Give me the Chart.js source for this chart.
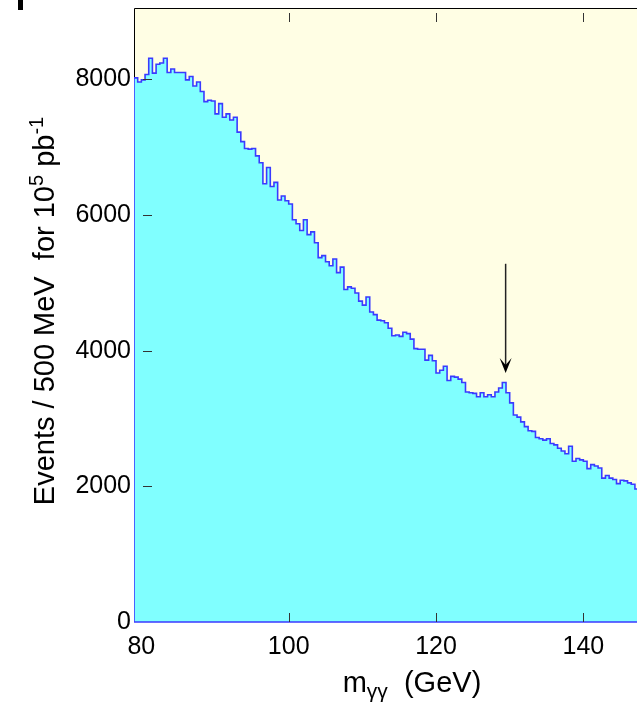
<!DOCTYPE html>
<html>
<head>
<meta charset="utf-8">
<script src="https://cdn.jsdelivr.net/npm/chart.js@4.4.1/dist/chart.umd.min.js"></script>
<style>
  html, body { margin: 0; padding: 0; background: #fff; overflow: hidden; }
  canvas { display: block; }
</style>
</head>
<body>
<canvas id="mass" width="640" height="705"></canvas>
<script>
// diphoton mass spectrum, 0.5 GeV bins starting at 79 GeV
const firstBinLow = 79;
const binWidth = 0.5;
const counts = [
  8020, 7960, 7990, 8070, 8310, 8090, 8220, 8240, 8310, 8100,
  8150, 8100, 8100, 8100, 7990, 8040, 7900, 7960, 7820, 7670,
  7690, 7680, 7490, 7640, 7440, 7490, 7400, 7440, 7220, 7080,
  6980, 6970, 6980, 6870, 6770, 6460, 6700, 6420, 6480, 6220,
  6280, 6210, 6160, 5930, 5870, 5770, 5930, 5710, 5750, 5590,
  5370, 5400, 5310, 5250, 5350, 5150, 5230, 4900, 4940, 4920,
  4850, 4730, 4670, 4790, 4570, 4530, 4450, 4440, 4410, 4330,
  4220, 4230, 4210, 4270, 4250, 4170, 4030, 4020, 4020, 3860,
  3930, 3850, 3670, 3710, 3770, 3560, 3620, 3610, 3580, 3530,
  3390, 3380, 3370, 3320, 3380, 3320, 3350, 3320, 3390, 3450,
  3530, 3380, 3230, 3050, 3020, 2950, 2880, 2820, 2810, 2720,
  2700, 2680, 2700, 2630, 2610, 2560, 2520, 2480, 2590, 2370,
  2410, 2390, 2370, 2260, 2320, 2300, 2270, 2120, 2160, 2120,
  2100, 2040, 2090, 2080, 2050, 2030, 1960
];
const xTickValues = [80, 100, 120, 140];
const innerTickMasses = [100, 120, 140];
const yTickValues = [0, 2000, 4000, 6000, 8000];
const yMax = 9050;

// arrow marking the excess
const arrowMass = 129.45;
const arrowTop = 5280;
const arrowTip = 3670;

const FONT = '"Liberation Sans", Arial, Helvetica, sans-serif';

const points = [{ x: firstBinLow, y: 0 }];
counts.forEach((c, i) => points.push({ x: firstBinLow + i * binWidth, y: c }));
points.push({ x: firstBinLow + counts.length * binWidth, y: counts[counts.length - 1] });

function drawRuns(ctx, runs, cx, baseY) {
  let total = 0;
  runs.forEach(r => {
    ctx.font = r.size + 'px ' + FONT;
    r.w = ctx.measureText(r.text).width;
    total += r.w;
  });
  let x = cx - total / 2;
  ctx.textAlign = 'left';
  ctx.textBaseline = 'alphabetic';
  runs.forEach(r => {
    ctx.font = r.size + 'px ' + FONT;
    ctx.fillText(r.text, x, baseY + r.dy);
    x += r.w;
  });
}

const decorations = {
  id: 'decorations',
  beforeDraw(chart) {
    const { ctx, chartArea: a } = chart;
    ctx.save();
    ctx.fillStyle = '#fffee4';
    ctx.fillRect(a.left, a.top, a.right - a.left, a.bottom - a.top);
    ctx.strokeStyle = '#000';
    ctx.lineWidth = 1;
    ctx.beginPath();
    ctx.moveTo(a.left + 0.5, a.bottom);
    ctx.lineTo(a.left + 0.5, a.top + 0.5);
    ctx.lineTo(a.right - 0.5, a.top + 0.5);
    ctx.lineTo(a.right - 0.5, a.bottom);
    ctx.stroke();
    ctx.restore();
  },
  afterDatasetsDraw(chart) {
    const { ctx, chartArea: a, scales } = chart;
    const xs = scales.x, ys = scales.y;
    ctx.save();

    // baseline of the histogram
    ctx.strokeStyle = '#3a3aff';
    ctx.lineWidth = 1.5;
    ctx.beginPath();
    ctx.moveTo(a.left, a.bottom);
    ctx.lineTo(a.right, a.bottom);
    ctx.stroke();

    // inward tick marks
    ctx.strokeStyle = '#333';
    ctx.lineWidth = 1;
    ctx.beginPath();
    innerTickMasses.forEach(m => {
      const px = Math.round(xs.getPixelForValue(m)) + 0.5;
      ctx.moveTo(px, a.bottom);
      ctx.lineTo(px, a.bottom - 9);
      ctx.moveTo(px, a.top + 5);
      ctx.lineTo(px, a.top + 14);
    });
    yTickValues.filter(v => v > 0).forEach(v => {
      const py = Math.round(ys.getPixelForValue(v)) + 0.5;
      ctx.moveTo(a.left + 9, py);
      ctx.lineTo(a.left + 18, py);
    });
    ctx.stroke();

    // arrow
    const ax = xs.getPixelForValue(arrowMass);
    const ay0 = ys.getPixelForValue(arrowTop);
    const ay1 = ys.getPixelForValue(arrowTip);
    ctx.strokeStyle = '#222';
    ctx.lineWidth = 1.5;
    ctx.beginPath();
    ctx.moveTo(ax, ay0);
    ctx.lineTo(ax, ay1 - 8);
    ctx.stroke();
    ctx.fillStyle = '#000';
    ctx.beginPath();
    ctx.moveTo(ax, ay1);
    ctx.lineTo(ax - 6, ay1 - 15);
    ctx.lineTo(ax, ay1 - 8);
    ctx.lineTo(ax + 6, ay1 - 15);
    ctx.closePath();
    ctx.fill();

    // axis titles
    ctx.fillStyle = '#000';
    drawRuns(ctx, [
      { text: 'm', size: 29, dy: 0 },
      { text: 'γγ', size: 21, dy: 6 },
      { text: '  (GeV)', size: 29, dy: 0 }
    ], 412, 692);

    ctx.save();
    ctx.translate(53.5, 311);
    ctx.rotate(-Math.PI / 2);
    drawRuns(ctx, [
      { text: 'Events / 500 MeV  for 10', size: 29, dy: 0 },
      { text: '5', size: 20, dy: -11 },
      { text: ' pb', size: 29, dy: 0 },
      { text: '-1', size: 20, dy: -11 }
    ], 0, 0);
    ctx.restore();

    // clipped mark in the top-left corner
    ctx.fillRect(18, 0, 5, 10);
    ctx.restore();
  }
};

new Chart(document.getElementById('mass').getContext('2d'), {
  type: 'line',
  data: {
    datasets: [
      {
        label: 'm_gg',
        data: points,
        stepped: true,
        fill: 'origin',
        borderColor: '#3a3aff',
        borderWidth: 1.6,
        backgroundColor: '#80ffff',
        pointRadius: 0,
        tension: 0,
      },
    ],
  },
  options: {
    responsive: false,
    animation: false,
    events: [],
    layout: { padding: { top: 8, right: 1.4, left: 0, bottom: 0 } },
    plugins: {
      legend: { display: false },
      tooltip: { enabled: false },
    },
    scales: {
      x: {
        type: 'linear',
        min: firstBinLow,
        max: firstBinLow + counts.length * binWidth,
        afterBuildTicks: s => { s.ticks = xTickValues.map(v => ({ value: v })); },
        afterFit: s => { s.height = 83; s.paddingLeft = 0; s.paddingRight = 0; },
        grid: { display: false, drawTicks: false },
        border: { display: false },
        ticks: {
          color: '#000',
          font: { size: 25, family: FONT },
          padding: 10,
          maxRotation: 0,
          autoSkip: false,
          callback: v => String(v),
        },
      },
      y: {
        min: 0,
        max: yMax,
        afterBuildTicks: s => { s.ticks = yTickValues.map(v => ({ value: v })); },
        afterFit: s => { s.width = 134; s.paddingTop = 0; s.paddingBottom = 0; },
        grid: { display: false, drawTicks: false },
        border: { display: false },
        ticks: {
          color: '#000',
          font: { size: 25, family: FONT },
          padding: 3,
          callback: v => String(v),
        },
      },
    },
  },
  plugins: [decorations],
});
</script>
</body>
</html>
